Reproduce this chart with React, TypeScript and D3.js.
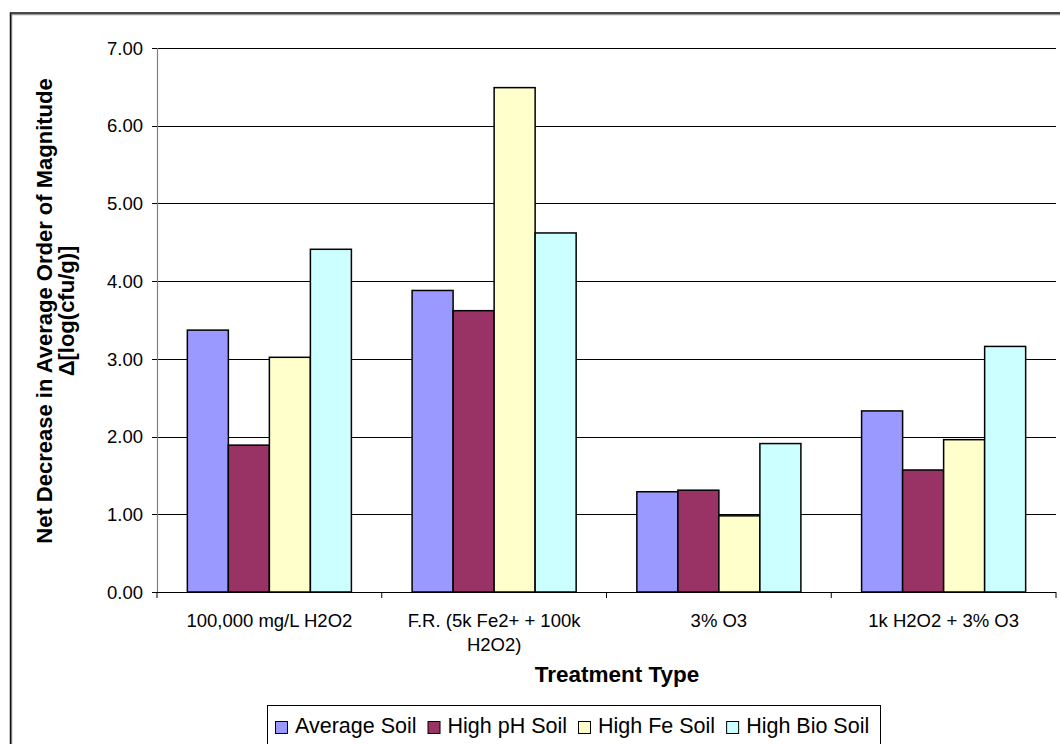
import React, { useEffect, useRef } from "react";
import * as d3 from "d3";

const categories = [
  "100,000 mg/L H2O2",
  "F.R. (5k Fe2+ + 100k H2O2)",
  "3% O3",
  "1k H2O2 + 3% O3",
];
const categoryLines = [
  ["100,000 mg/L H2O2"],
  ["F.R. (5k Fe2+ + 100k", "H2O2)"],
  ["3% O3"],
  ["1k H2O2 + 3% O3"],
];
const seriesNames = ["Average Soil", "High pH Soil", "High Fe Soil", "High Bio Soil"];
const seriesColors = ["#9999FF", "#993366", "#FFFFCC", "#CCFFFF"];
const averageSoil = [3.37, 3.88, 1.29, 2.33];
const highPhSoil = [1.89, 3.62, 1.31, 1.57];
const highFeSoil = [3.02, 6.49, 0.98, 1.96];
const highBioSoil = [4.41, 4.62, 1.91, 3.16];
const yTicks = [0, 1, 2, 3, 4, 5, 6, 7];
const yTitle = ["Net Decrease in Average Order of Magnitude", "Δ[log(cfu/g)]"];
const xTitle = "Treatment Type";

const W = 1060;
const H = 744;
const FONT = "'Liberation Sans', Arial, sans-serif";

export default function App() {
  const ref = useRef<SVGSVGElement>(null);

  useEffect(() => {
    document.body.style.margin = "0";
    const svg = d3.select(ref.current);
    svg.selectAll("*").remove();

    const seriesValues = [averageSoil, highPhSoil, highFeSoil, highBioSoil];

    const left = 157, right = 1056, top = 48, bottom = 592;
    const x = d3.scaleBand<string>().domain(categories).range([left, right]).paddingInner(0).paddingOuter(0);
    const xs = d3.scaleBand<string>().domain(seriesNames).range([0, x.bandwidth()]).paddingInner(0).paddingOuter(0.74);
    const y = d3.scaleLinear().domain([0, 7]).range([bottom, top]);

    svg.append("rect").attr("width", W).attr("height", H).attr("fill", "white");

    // outer chart border (extends past right & bottom)
    svg.append("rect").attr("x", 11.5).attr("y", 14.5).attr("width", 1200).attr("height", 900)
      .attr("fill", "none").attr("stroke", "#999").attr("stroke-width", 1.5);
    svg.append("rect").attr("x", 10.5).attr("y", 13).attr("width", 1200).attr("height", 900)
      .attr("fill", "none").attr("stroke", "#111").attr("stroke-width", 1.5);

    // gridlines
    svg.append("g").selectAll("line").data(yTicks.filter((t) => t > 0)).join("line")
      .attr("x1", left).attr("x2", right)
      .attr("y1", (d) => Math.round(y(d)) + 0.5).attr("y2", (d) => Math.round(y(d)) + 0.5)
      .attr("stroke", "#000").attr("stroke-width", 1);

    // y axis
    const yAxis = svg.append("g");
    yAxis.append("line").attr("x1", left + 0.5).attr("x2", left + 0.5).attr("y1", top).attr("y2", bottom)
      .attr("stroke", "#808080").attr("stroke-width", 1.2);
    yAxis.selectAll("line.t").data(yTicks).join("line").attr("class", "t")
      .attr("x1", left - 5).attr("x2", left)
      .attr("y1", (d) => Math.round(y(d)) + 0.5).attr("y2", (d) => Math.round(y(d)) + 0.5)
      .attr("stroke", "#000");
    yAxis.selectAll("text").data(yTicks).join("text")
      .attr("x", 143).attr("y", (d) => y(d)).attr("dy", "0.36em")
      .attr("text-anchor", "end").attr("font-family", FONT).attr("font-size", 18.5)
      .text((d) => d3.format(".2f")(d));

    // bars
    const g = svg.append("g");
    seriesNames.forEach((s, si) => {
      g.append("g").selectAll("rect").data(seriesValues[si]).join("rect")
        .attr("x", (_d, i) => (x(categories[i]) as number) + (xs(s) as number))
        .attr("y", (d) => y(d))
        .attr("width", xs.bandwidth())
        .attr("height", (d) => y(0) - y(d))
        .attr("fill", seriesColors[si])
        .attr("stroke", "#000").attr("stroke-width", 1.5);
    });

    // x axis
    const xAxis = svg.append("g");
    xAxis.append("line").attr("x1", left).attr("x2", right).attr("y1", bottom + 0.5).attr("y2", bottom + 0.5)
      .attr("stroke", "#000").attr("stroke-width", 1.2);
    const bounds = categories.map((c) => x(c) as number).concat([right]);
    xAxis.selectAll("line.t").data(bounds).join("line").attr("class", "t")
      .attr("x1", (d) => d).attr("x2", (d) => d).attr("y1", bottom).attr("y2", bottom + 6)
      .attr("stroke", "#000");
    categories.forEach((c, i) => {
      const t = xAxis.append("text").attr("text-anchor", "middle").attr("font-family", FONT).attr("font-size", 18.5);
      categoryLines[i].forEach((line, li) => {
        t.append("tspan").attr("x", (x(c) as number) + x.bandwidth() / 2).attr("y", 627 + li * 24).text(line);
      });
    });

    // axis titles
    svg.append("text").attr("x", 617).attr("y", 682).attr("text-anchor", "middle")
      .attr("font-family", FONT).attr("font-weight", "bold").attr("font-size", 22.5).text(xTitle);
    const yt = svg.append("text").attr("transform", "translate(0,311) rotate(-90)")
      .attr("text-anchor", "middle").attr("font-family", FONT).attr("font-weight", "bold").attr("font-size", 22);
    yTitle.forEach((line, li) => {
      yt.append("tspan").attr("x", 0).attr("y", 52 + li * 22).text(line);
    });

    // legend
    const lg = svg.append("g");
    const lx = 267, ly = 705;
    lg.append("rect").attr("x", lx + 0.5).attr("y", ly + 0.5).attr("width", 613).attr("height", 100)
      .attr("fill", "white").attr("stroke", "#000").attr("stroke-width", 1);
    let cx = lx + 8;
    seriesNames.forEach((s, si) => {
      lg.append("rect").attr("x", cx + 0.5).attr("y", 721.5).attr("width", 12).attr("height", 12)
        .attr("fill", seriesColors[si]).attr("stroke", "#000").attr("stroke-width", 1);
      const t = lg.append("text").attr("x", cx + 20).attr("y", 733).attr("font-family", FONT)
        .attr("font-size", 21.5).text(s);
      const w = (t.node() as SVGTextElement).getComputedTextLength();
      cx = cx + 20 + w + 11;
    });
  }, []);

  return <svg ref={ref} width={W} height={H} style={{ display: "block" }} />;
}
